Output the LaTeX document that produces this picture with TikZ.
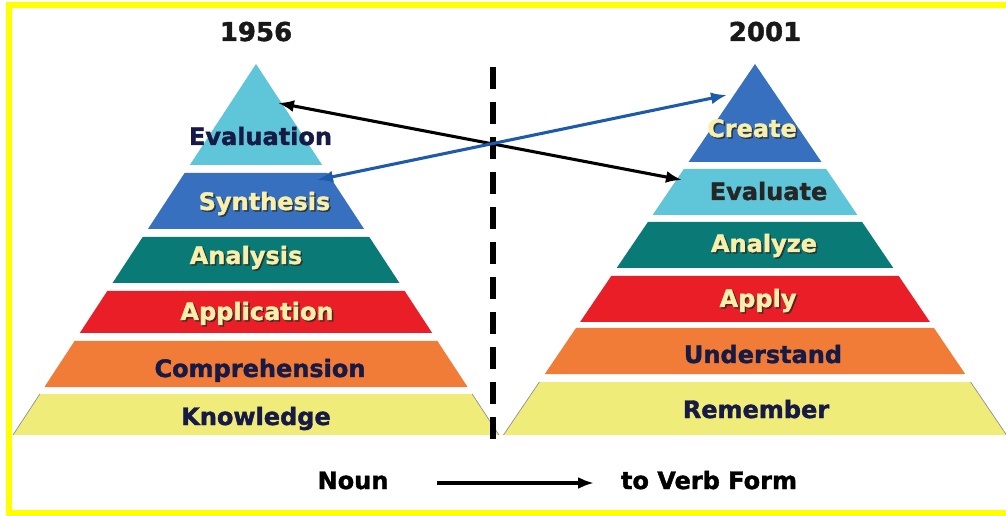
\documentclass[tikz,border=0pt]{standalone}
\usepackage{fontspec}
\setmainfont{DejaVu Sans}[BoldFeatures={FakeBold=1.5}]
\usetikzlibrary{arrows.meta}

\definecolor{bandcyan}{RGB}{94,198,216}
\definecolor{bandblue}{RGB}{56,112,192}
\definecolor{bandteal}{RGB}{10,122,118}
\definecolor{bandred}{RGB}{234,30,38}
\definecolor{bandorange}{RGB}{240,124,56}
\definecolor{bandyellow}{RGB}{240,236,122}
\definecolor{navytext}{RGB}{22,26,68}
\definecolor{paletext}{RGB}{248,240,170}
\definecolor{linkblue}{RGB}{30,90,172}
\definecolor{framey}{RGB}{255,255,0}

% one horizontal slice of a pyramid: centre x, slope, top y, bottom y, colour
\newcommand\pyrband[5]{%
  \fill[#5] ({#1-#2*(#3-64)},#3) -- ({#1+#2*(#3-64)},#3)
    -- ({#1+#2*(#4-64)},#4) -- ({#1-#2*(#4-64)},#4) -- cycle;}

\begin{document}
\begin{tikzpicture}[x=0.75pt,y=-0.75pt,
  lbl/.style={inner sep=0pt,anchor=base,font=\fontsize{18}{20}\selectfont\bfseries},
  darklbl/.style={lbl,text=navytext},
  palelbl/.style={lbl,text=paletext},
  shadowlbl/.style={lbl,text=black!85,opacity=0.75},
  yearlbl/.style={inner sep=0pt,anchor=base,font=\fontsize{19.5}{22}\selectfont\bfseries,text=black!90},
  formlbl/.style={inner sep=0pt,anchor=base,font=\fontsize{18}{20}\selectfont\bfseries,text=black},
  link/.style={line width=2.3pt,{Latex[length=12pt,width=9pt]}-{Latex[length=12pt,width=9pt]}},
  divider/.style={line width=3.8pt,dash pattern=on 16.5pt off 9.75pt}]
\useasboundingbox (0,0) rectangle (1006,516);
\clip (0,0) rectangle (1006,516);
\fill[white] (0,0) rectangle (1006,516);

% frame
\draw[framey,line width=4.5pt] (9,5.5) rectangle (1020,513);

% 1956 pyramid
\pyrband{256}{0.655}{64}{165}{bandcyan}
\pyrband{256}{0.655}{173}{229}{bandblue}
\pyrband{256}{0.655}{237}{283}{bandteal}
\pyrband{256}{0.655}{291}{333}{bandred}
\pyrband{256}{0.655}{341}{387}{bandorange}
\pyrband{256}{0.655}{394}{435}{bandyellow}
\draw[black!45,line width=0.5pt] ({256-0.655*(394-64)},394) -- ({256-0.655*(435-64)},435)
  ({256+0.655*(394-64)},394) -- ({256+0.655*(435-64)},435);

% 2001 pyramid
\pyrband{755}{0.678}{64}{162}{bandblue}
\pyrband{755}{0.678}{169}{215}{bandcyan}
\pyrband{755}{0.678}{222}{268}{bandteal}
\pyrband{755}{0.678}{276}{322}{bandred}
\pyrband{755}{0.678}{328}{374}{bandorange}
\pyrband{755}{0.678}{382}{435}{bandyellow}
\draw[black!45,line width=0.5pt] ({755-0.678*(382-64)},382) -- ({755-0.678*(435-64)},435)
  ({755+0.678*(382-64)},382) -- ({755+0.678*(435-64)},435);

% years
\node[yearlbl] (y1956) at (256,41) {1956};
\node[yearlbl] (y2001) at (765,41) {2001};

% 1956 labels
\node[darklbl] (evaluation) at (260.5,145) {Evaluation};
\node[shadowlbl] (synthesis-s) at (266,211.5) {Synthesis};
\node[palelbl] (synthesis) at (264.5,210) {Synthesis};
\node[shadowlbl] (analysis-s) at (247.5,265.5) {Analysis};
\node[palelbl] (analysis) at (246,264) {Analysis};
\node[shadowlbl] (application-s) at (258.5,321.5) {Application};
\node[palelbl] (application) at (257,320) {Application};
\node[darklbl] (comprehension) at (260,377) {Comprehension};
\node[darklbl] (knowledge) at (256,425) {Knowledge};

% 2001 labels
\node[shadowlbl] (create-s) at (753.5,138.5) {Create};
\node[palelbl] (create) at (752,137) {Create};
\node[darklbl,text=black!85] (evaluate) at (768.5,200) {Evaluate};
\node[shadowlbl] (analyze-s) at (765.5,253.5) {Analyze};
\node[palelbl] (analyze) at (764,252) {Analyze};
\node[shadowlbl] (apply-s) at (759.5,308.5) {Apply};
\node[palelbl] (apply) at (758,307) {Apply};
\node[darklbl] (understand) at (763,363) {Understand};
\node[darklbl] (remember) at (756,418) {Remember};

% divider between the two versions
\coordinate (divtop) at (493,67);
\coordinate (divbot) at (493,445);
\draw[divider] (divtop) -- (divbot);

% links between renamed levels
\coordinate (evaluationtip) at (278,103);
\coordinate (evaluatetip) at (682,180);
\coordinate (synthesistip) at (317,180);
\coordinate (createtip) at (727,95);
\draw[link,black] (evaluationtip) -- (evaluatetip);
\draw[link,linkblue] (synthesistip) -- (createtip);

% noun to verb
\node[formlbl] (noun) at (353,489) {Noun};
\node[formlbl] (verbform) at (709,489) {to Verb Form};
\coordinate (formstart) at (437,483);
\coordinate (formend) at (594,483);
\draw[line width=2.4pt,-{Latex[length=12pt,width=9pt]}] (formstart) -- (formend);
\end{tikzpicture}
\end{document}
